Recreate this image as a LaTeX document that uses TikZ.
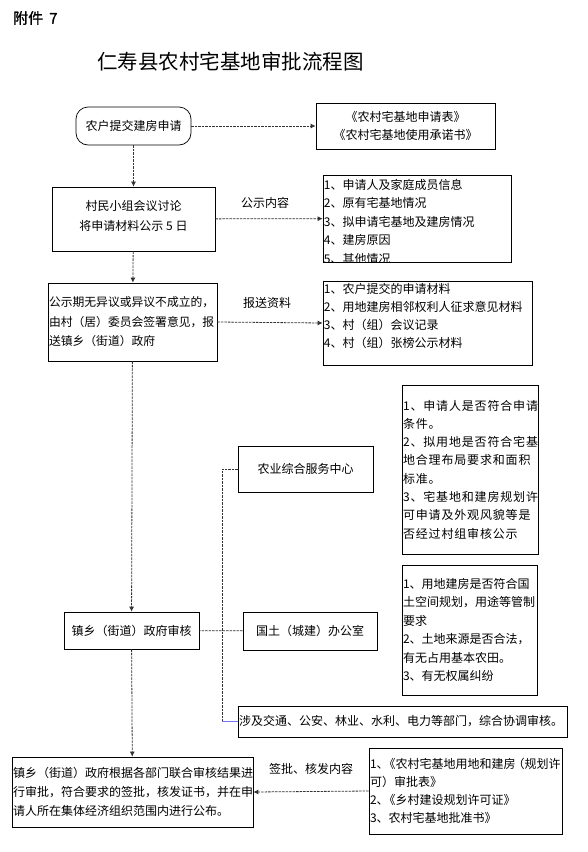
\documentclass[tikz,border=0pt]{standalone}
\usepackage{fontspec}
\setmainfont{Noto Sans CJK SC}
\newfontfamily\spacedcjk[LetterSpace=7]{Noto Sans CJK SC}
\newfontfamily\heavycjk[FakeBold=1.2]{Noto Sans CJK SC}
\usetikzlibrary{arrows.meta,positioning}

\begin{document}
\begin{tikzpicture}[x=1pt, y=-1pt, >={Latex[length=5pt,width=5pt]},
  box/.style={draw, line width=0.7pt, inner sep=1pt, font=\fontsize{12}{18.5}\selectfont},
  txt/.style={inner xsep=1pt, align=left, font=\fontsize{12}{18.5}\selectfont},
  lbl/.style={inner sep=0pt, font=\fontsize{12}{14}\selectfont},
  dline/.style={dash pattern=on 2.5pt off 1pt, line width=0.8pt, black!80}]

% Page
\useasboundingbox (0,0) rectangle (587,852);

% Heading
\node[anchor=west, inner sep=0pt, font=\heavycjk\fontsize{15}{18}\selectfont] (annex) at (13,18) {附件\hspace{6pt}7};
\node[anchor=west, inner sep=0pt, font=\fontsize{20.5}{24}\selectfont] (title) at (97,62) {仁寿县农村宅基地审批流程图};

% Main steps
\node[box, rounded corners=12pt, minimum width=115pt, minimum height=38pt] (apply) at (133.5,126) {农户提交建房申请};
\node[box, minimum width=163pt, minimum height=64pt, align=center, font=\fontsize{12}{20}\selectfont] (meet) at (133.5,219) {村民小组会议讨论\\将申请材料公示 5 日\\[-12pt]};
\node[box, minimum width=169pt, minimum height=78pt, text width=167pt, align=left, font=\fontsize{11.8}{19.5}\selectfont] (submit) at (132.5,322)
  {公示期无异议或异议不成立的，\\由村（居）委员会签署意见，报\\送镇乡（街道）政府};
\node[box, minimum width=135pt, minimum height=37pt] (audit) at (131.5,630.5) {镇乡（街道）政府审核};
\node[box, minimum width=241pt, minimum height=70pt, text width=239pt, align=left, font=\fontsize{12}{19}\selectfont] (final) at (132.5,792)
  {镇乡（街道）政府根据各部门联合审核结果进\\行审批，符合要求的签批，核发证书，并在申\\请人所在集体经济组织范围内进行公布。};

% Side boxes
\node[box, minimum width=179pt, minimum height=46pt, align=center, font=\fontsize{12}{18}\selectfont] (forms) at (405.5,126)
  {《农村宅基地申请表》\\《农村宅基地使用承诺书》};

\node[box, minimum width=188pt, minimum height=87pt] (content) at (417,218.5) {};
\begin{scope}
\clip (content.north west) rectangle (content.south east);
\node[txt, anchor=north west, inner ysep=4pt] (contentlist) at (content.north west)
  {1、申请人及家庭成员信息\\2、原有宅基地情况\\3、拟申请宅基地及建房情况\\4、建房原因\\5、其他情况};
\end{scope}

\node[box, minimum width=209pt, minimum height=84pt] (papers) at (427.5,323) {};
\node[txt, anchor=north west, inner ysep=2pt, font=\fontsize{12}{18}\selectfont] (paperlist) at (papers.north west)
  {1、农户提交的申请材料\\2、用地建房相邻权利人征求意见材料\\3、村（组）会议记录\\4、村（组）张榜公示材料};

\node[box, minimum width=135pt, minimum height=46pt] (agri) at (305.5,469) {农业综合服务中心};
\node[box, minimum width=136pt, minimum height=169pt, text width=134pt, align=left, font=\spacedcjk\fontsize{12}{18.3}\selectfont] (agricheck) at (470,469.5)
  {1、申请人是否符合申请\\条件。\\2、拟用地是否符合宅基\\地合理布局要求和面积\\标准。\\3、宅基地和建房规划许\\可申请及外观风貌等是\\否经过村组审核公示};

\node[box, minimum width=134pt, minimum height=38pt] (land) at (310,631) {国土（城建）办公室};
\node[box, minimum width=135pt, minimum height=130pt, text width=133pt, align=left, font=\fontsize{12}{18.4}\selectfont] (landcheck) at (469.5,630)
  {1、用地建房是否符合国\\土空间规划，用途等管制\\要求\\2、土地来源是否合法，\\有无占用基本农田。\\3、有无权属纠纷};

\node[box, minimum width=329pt, minimum height=31pt, text width=327pt, align=left] (misc) at (402.5,721.5)
  {涉及交通、公安、林业、水利、电力等部门，综合协调审核。};

\node[box, minimum width=193pt, minimum height=86pt, text width=191pt, align=left, font=\fontsize{12}{18}\selectfont] (issue) at (465.5,791)
  {1、\kern-5pt《农村宅基地用地和建房\kern-3pt（规划许\\可）审批表》\\2、\kern-5pt《乡村建设规划许可证》\\3、农村宅基地批准书》};

% Labels
\node[lbl] (lblcontent) at (265,203) {公示内容};
\node[lbl] (lblpapers) at (267,303) {报送资料};
\node[lbl] (lblissue) at (311,769) {签批、核发内容};

% Coordinates
\coordinate (spinetop) at (222,469);
\coordinate (spinebot) at (222,721.5);

% Connectors
\draw[dline, ->] (apply) -- (forms);
\draw[dline, ->] (apply) -- (meet);
\draw[dline, ->] (meet) -- (content);
\draw[dline, ->] (meet) -- (submit);
\draw[dline, ->] (submit.east) -- (papers.west);
\draw[dline, ->] (submit) -- (audit);
\draw[dline] (land) -- (audit);
\draw[dline, ->] (audit) -- (final);
\draw[dline, ->] (issue.west) -- (final.east);
\draw[dline] (agri.west) -- (spinetop) -- (spinebot);
\draw[blue!55, line width=0.8pt] (spinebot) -- (misc.west);

\end{tikzpicture}
\end{document}
